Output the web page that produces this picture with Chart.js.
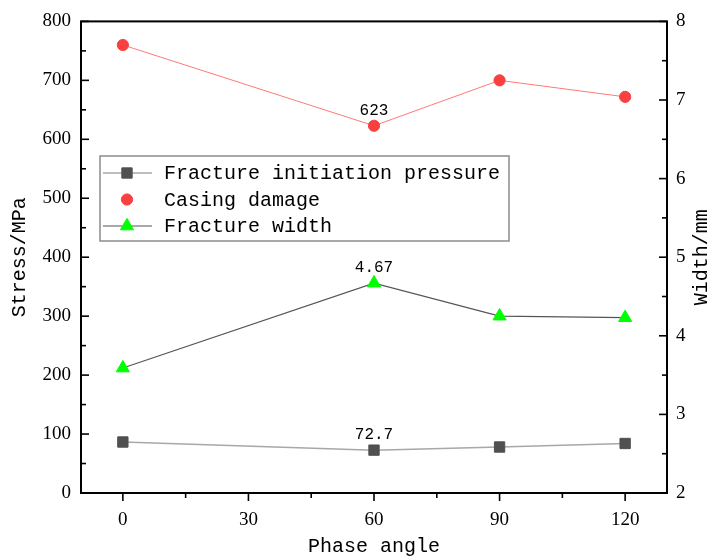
<!DOCTYPE html>
<html>
<head>
<meta charset="utf-8">
<script src="https://cdn.jsdelivr.net/npm/chart.js@4.4.1/dist/chart.umd.min.js"></script>
<style>
    html, body { margin: 0; padding: 0; background: #fff; }
    #wrap { width: 712px; height: 560px; }
</style>
</head>
<body>
<div id="wrap"><canvas id="phaseChart" width="712" height="560"></canvas></div>
<script>
// chart data
const phaseAngles = [0, 60, 90, 120];
const initiationPressure = [86.5, 72.7, 78, 84];   // MPa, left axis
const casingDamage = [760, 623, 700, 672];         // MPa, left axis
const fractureWidth = [3.59, 4.67, 4.25, 4.23];    // mm, right axis
const labelledIndex = 1;                           // only the 60 deg point gets a value label

const xTicks = [0, 30, 60, 90, 120];
const stressTicks = [0, 100, 200, 300, 400, 500, 600, 700, 800];
const widthTicks = [2, 3, 4, 5, 6, 7, 8];

const seriesNames = ['Fracture initiation pressure', 'Casing damage', 'Fracture width'];

const MONO = '"Liberation Mono", "DejaVu Sans Mono", monospace';
const SERIF = '"Liberation Serif", "DejaVu Serif", serif';

const toPoints = (values) => values.map((v, i) => ({ x: phaseAngles[i], y: v }));
const fixTicks = (list) => (scale) => { scale.ticks = list.map(v => ({ value: v })); };

// midpoints between major ticks
const minorOf = (list) => list.slice(1).map((v, i) => (v + list[i]) / 2);

// box, inward/outward tick marks
const frameAndTicks = {
    id: 'frameAndTicks',
    afterDraw(chart) {
        const { ctx, chartArea: a, scales } = chart;
        ctx.save();
        ctx.strokeStyle = '#000';
        ctx.lineWidth = 2;
        ctx.strokeRect(a.left, a.top, a.right - a.left, a.bottom - a.top);

        const tick = (x1, y1, x2, y2) => {
            ctx.beginPath();
            ctx.moveTo(x1, y1);
            ctx.lineTo(x2, y2);
            ctx.stroke();
        };
        ctx.lineWidth = 1.6;
        // left axis, ticks inward
        stressTicks.forEach(v => { const y = scales.y.getPixelForValue(v); tick(a.left, y, a.left + 8, y); });
        minorOf(stressTicks).forEach(v => { const y = scales.y.getPixelForValue(v); tick(a.left, y, a.left + 5, y); });
        // right axis, ticks inward
        widthTicks.forEach(v => { const y = scales.y1.getPixelForValue(v); tick(a.right, y, a.right - 8, y); });
        minorOf(widthTicks).forEach(v => { const y = scales.y1.getPixelForValue(v); tick(a.right, y, a.right - 5, y); });
        // bottom axis, ticks outward
        xTicks.forEach(v => { const x = scales.x.getPixelForValue(v); tick(x, a.bottom, x, a.bottom + 8); });
        minorOf(xTicks).forEach(v => { const x = scales.x.getPixelForValue(v); tick(x, a.bottom, x, a.bottom + 5); });

        // right title reads bottom to top like the left one
        ctx.fillStyle = '#000';
        ctx.font = '20px ' + MONO;
        ctx.textAlign = 'center';
        ctx.textBaseline = 'middle';
        ctx.translate(702, (a.top + a.bottom) / 2);
        ctx.rotate(-Math.PI / 2);
        ctx.fillText('Width/mm', 0, 0);
        ctx.restore();
    }
};

// value labels above the 60 deg points
const valueLabels = {
    id: 'valueLabels',
    afterDatasetsDraw(chart) {
        const { ctx } = chart;
        ctx.save();
        ctx.fillStyle = '#000';
        ctx.font = '16px ' + MONO;
        ctx.textAlign = 'center';
        ctx.textBaseline = 'middle';
        chart.data.datasets.forEach((ds, i) => {
            const pt = chart.getDatasetMeta(i).data[labelledIndex];
            ctx.fillText(String(ds.data[labelledIndex].y), pt.x, pt.y - 15);
        });
        ctx.restore();
    }
};

// legend box inside the plot
const boxLegend = {
    id: 'boxLegend',
    afterDatasetsDraw(chart) {
        const { ctx } = chart;
        ctx.save();
        ctx.fillStyle = '#fff';
        ctx.fillRect(100, 156, 409, 85);
        ctx.strokeStyle = '#8c8c8c';
        ctx.lineWidth = 1.5;
        ctx.strokeRect(100, 156, 409, 85);

        chart.data.datasets.forEach((ds, i) => {
            const y = 173 + i * 26.5;
            if (ds.legendLine) {
                ctx.strokeStyle = ds.borderColor;
                ctx.lineWidth = ds.borderWidth;
                ctx.beginPath();
                ctx.moveTo(103, y);
                ctx.lineTo(152, y);
                ctx.stroke();
            }
            ctx.fillStyle = ds.pointBackgroundColor;
            ctx.strokeStyle = ds.pointBorderColor;
            ctx.lineWidth = ds.pointBorderWidth;
            Chart.helpers.drawPoint(ctx, {
                pointStyle: ds.pointStyle,
                radius: ds.pointRadius,
                rotation: 0,
                borderWidth: ds.pointBorderWidth
            }, 127, y);
            ctx.fillStyle = '#000';
            ctx.font = '20px ' + MONO;
            ctx.textAlign = 'left';
            ctx.textBaseline = 'middle';
            ctx.fillText(ds.label, 164, y + 1);
        });
        ctx.restore();
    }
};

const ctx = document.getElementById('phaseChart').getContext('2d');
const phaseChart = new Chart(ctx, {
    type: 'line',
    data: {
        datasets: [{
            label: seriesNames[0],
            data: toPoints(initiationPressure),
            yAxisID: 'y',
            borderColor: '#a8a8a8',
            borderWidth: 1.5,
            pointStyle: 'rect',
            pointRadius: 7.3,
            pointBackgroundColor: '#505050',
            pointBorderColor: '#505050',
            pointBorderWidth: 1,
            legendLine: true
        }, {
            label: seriesNames[1],
            data: toPoints(casingDamage),
            yAxisID: 'y',
            borderColor: '#ff7878',
            borderWidth: 1,
            pointStyle: 'circle',
            pointRadius: 5.6,
            pointBackgroundColor: '#f84040',
            pointBorderColor: '#f84040',
            pointBorderWidth: 1,
            legendLine: false
        }, {
            label: seriesNames[2],
            data: toPoints(fractureWidth),
            yAxisID: 'y1',
            borderColor: '#555555',
            borderWidth: 1.2,
            pointStyle: 'triangle',
            pointRadius: 7.6,
            pointBackgroundColor: '#00ff00',
            pointBorderColor: '#00ff00',
            pointBorderWidth: 1,
            legendLine: true
        }]
    },
    options: {
        responsive: false,
        animation: false,
        devicePixelRatio: 1,
        layout: { padding: { top: 16, left: 0, right: 0, bottom: 0 } },
        plugins: {
            legend: { display: false },
            tooltip: { enabled: false }
        },
        scales: {
            x: {
                type: 'linear',
                min: -10,
                max: 130,
                afterBuildTicks: fixTicks(xTicks),
                afterFit: (s) => { s.height = 67; },
                grid: { display: false, drawTicks: false },
                border: { display: false },
                ticks: { color: '#000', padding: 16, font: { family: SERIF, size: 19 } },
                title: {
                    display: true,
                    text: 'Phase angle',
                    color: '#000',
                    font: { family: MONO, size: 20 },
                    padding: { top: 0, bottom: 1 }
                }
            },
            y: {
                position: 'left',
                min: 0,
                max: 800,
                afterBuildTicks: fixTicks(stressTicks),
                afterFit: (s) => { s.width = 81; },
                grid: { display: false, drawTicks: false },
                border: { display: false },
                ticks: { color: '#000', padding: 10, font: { family: SERIF, size: 19 } },
                title: {
                    display: true,
                    text: 'Stress/MPa',
                    color: '#000',
                    font: { family: MONO, size: 20 },
                    padding: { top: 8, bottom: 0 }
                }
            },
            y1: {
                position: 'right',
                min: 2,
                max: 8,
                afterBuildTicks: fixTicks(widthTicks),
                afterFit: (s) => { s.width = 45; },
                grid: { display: false, drawTicks: false },
                border: { display: false },
                ticks: { color: '#000', padding: 9, font: { family: SERIF, size: 19 } }
            }
        }
    },
    plugins: [frameAndTicks, valueLabels, boxLegend]
});
</script>
</body>
</html>
